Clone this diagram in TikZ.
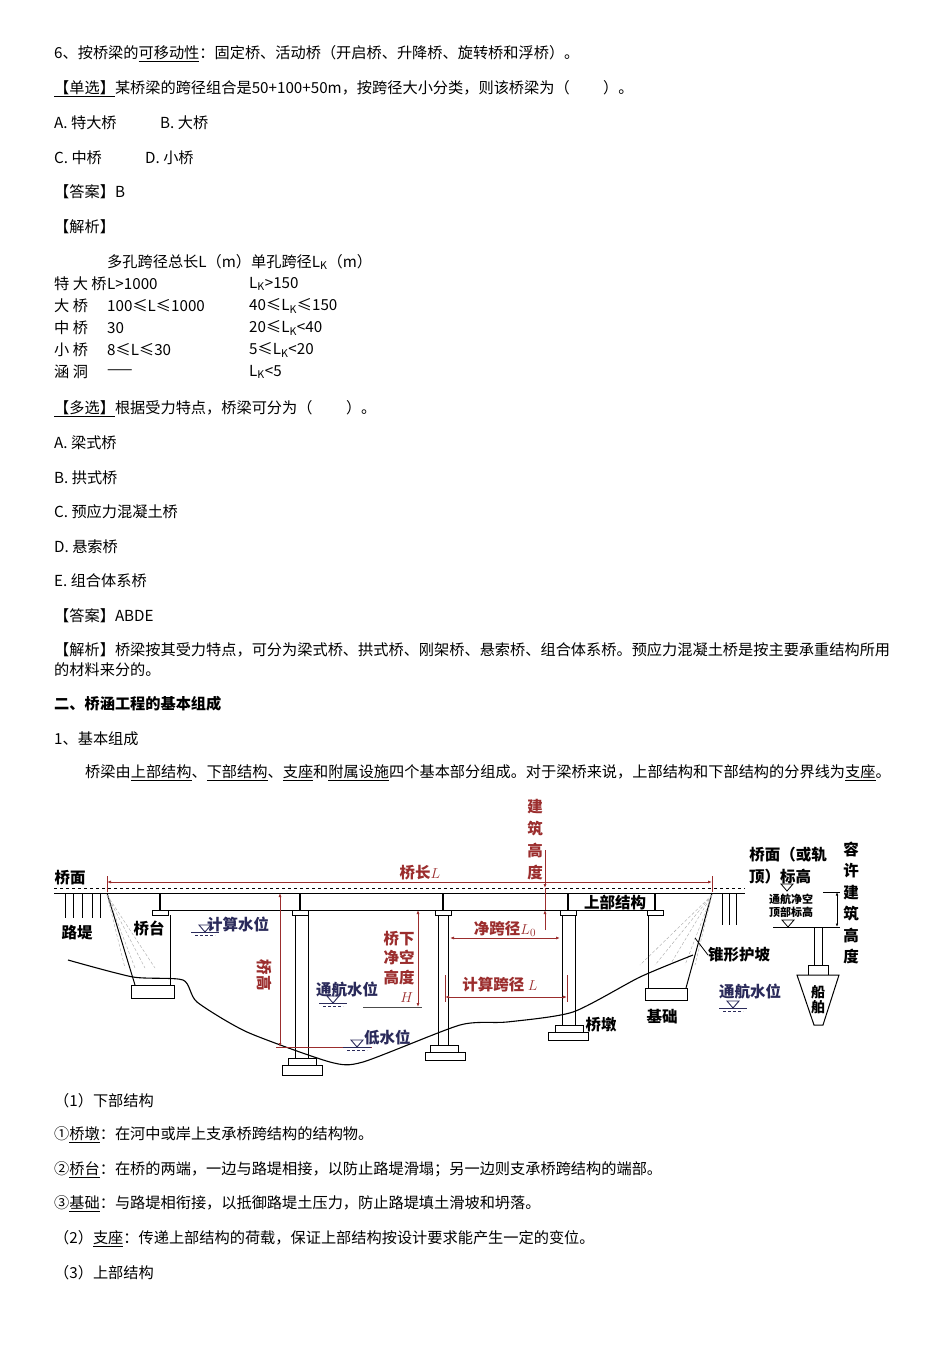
\documentclass[tikz,border=0pt]{standalone}
\usepackage{fontspec}
\setmainfont{Noto Sans CJK SC}
\usetikzlibrary{arrows.meta}
\definecolor{dred}{HTML}{9B2D2D}
\definecolor{navy}{HTML}{2A2A5A}
\begin{document}
\begin{tikzpicture}[x=1pt,y=-1pt,
  txt/.style={anchor=west,inner sep=0pt,font=\fontsize{15.2}{17}\selectfont},
  lab/.style={inner sep=0pt,font=\fontsize{15.5}{17}\selectfont\bfseries},
  rlab/.style={lab,text=dred},
  blab/.style={lab,text=navy},
  rd/.style={draw=dred,line width=0.8pt},
  dim/.style={rd,{Latex[length=4pt]}-{Latex[length=4pt]}},
  st/.style={draw=black,line width=1pt}]
\useasboundingbox[fill=white] (0,0) rectangle (950,1345);
% ---- text ----
\node[txt] (t1) at (54,54) {6、按桥梁的\underline{可移动性}：固定桥、活动桥（开启桥、升降桥、旋转桥和浮桥）。};
\node[txt] (t2) at (54,89) {\underline{【单选】}某桥梁的跨径组合是50+100+50m，按跨径大小分类，则该桥梁为（\hspace{2.2em}）。};
\node[txt] (t3) at (54,123) {A.\ 特大桥};
\node[txt] (t3b) at (160,123) {B.\ 大桥};
\node[txt] (t4) at (54,158) {C.\ 中桥};
\node[txt] (t4b) at (145,158) {D.\ 小桥};
\node[txt] (t5) at (54,192) {【答案】B};
\node[txt] (t6) at (54,227) {【解析】};
\node[txt] (h1) at (107,262) {多孔跨径总长L（m）单孔跨径L$_\mathrm{K}$（m）};
\foreach \y/\a/\b/\c in {284/特 大 桥/L>1000/L$_\mathrm{K}$>150,
  306/大 桥/100≤L≤1000/40≤L$_\mathrm{K}$≤150,
  328/中 桥/30/20≤L$_\mathrm{K}$<40,
  350/小 桥/8≤L≤30/5≤L$_\mathrm{K}$<20,
  372/涵 洞/——/L$_\mathrm{K}$<5}{
  \node[txt] (ra\y) at (54,\y) {\a};
  \node[txt] (rb\y) at (107,\y) {\b};
  \node[txt] (rc\y) at (249,\y) {\c};}
\node[txt] (t7) at (54,409) {\underline{【多选】}根据受力特点，桥梁可分为（\hspace{2.2em}）。};
\node[txt] (t8) at (54,443) {A.\ 梁式桥};
\node[txt] (t9) at (54,478) {B.\ 拱式桥};
\node[txt] (t10) at (54,512) {C.\ 预应力混凝土桥};
\node[txt] (t11) at (54,547) {D.\ 悬索桥};
\node[txt] (t12) at (54,581) {E.\ 组合体系桥};
\node[txt] (t13) at (54,616) {【答案】ABDE};
\node[txt] (t14) at (54,650) {【解析】桥梁按其受力特点，可分为梁式桥、拱式桥、刚架桥、悬索桥、组合体系桥。预应力混凝土桥是按主要承重结构所用};
\node[txt] (t15) at (54,670) {的材料来分的。};
\node[txt,font=\fontsize{15.2}{17}\selectfont\bfseries] (t16) at (54,704) {二、桥涵工程的基本组成};
\node[txt] (t17) at (54,739) {1、基本组成};
\node[txt] (t18) at (85,773) {桥梁由\underline{上部结构}、\underline{下部结构}、\underline{支座}和\underline{附属设施}四个基本部分组成。对于梁桥来说，上部结构和下部结构的分界线为\underline{支座}。};
\node[txt] (t19) at (54,1101) {（1）下部结构};
\node[txt] (t20) at (54,1135) {①\underline{桥墩}：在河中或岸上支承桥跨结构的结构物。};
\node[txt] (t21) at (54,1170) {②\underline{桥台}：在桥的两端，一边与路堤相接，以防止路堤滑塌；另一边则支承桥跨结构的端部。};
\node[txt] (t22) at (54,1204) {③\underline{基础}：与路堤相衔接，以抵御路堤土压力，防止路堤填土滑坡和坍落。};
\node[txt] (t23) at (54,1239) {（2）\underline{支座}：传递上部结构的荷载，保证上部结构按设计要求能产生一定的变位。};
\node[txt] (t24) at (54,1273) {（3）上部结构};
% ---- diagram: deck ----
\draw[st,dashed,line width=1pt] (54,888) -- (745,888);
\draw[st] (54,893) -- (745,893);
\draw[st] (158,910) -- (658,910);
\foreach \x in {160,300,443,568,655}{
  \draw[st,line width=2pt] (\x,893) -- (\x,910);
  \draw[st,fill=white] (\x-8,910) rectangle (\x+8,915);}
% road embankments
\foreach \x in {65,73,82,92,100}{\draw[st] (\x,893) -- (\x,918);}
\foreach \x in {722,729,736}{\draw[st] (\x,893) -- (\x,925);}
\node[lab] (qm) at (70,878) {桥面};
\node[lab] (lt) at (77,933) {路堤};
% left abutment
\draw[st] (107,893) -- (135,985);
\draw[st] (170,915) -- (170,985);
\draw[st,fill=white] (131,985) rectangle (174,998);
\foreach \e in {125,135,145,155}{\draw[gray!70,densely dashed,line width=0.4pt] (107,895) -- (\e,968);}
\node[lab] (qt) at (149,928) {桥台};
% piers
\draw[st] (295,915) -- (295,1058) (308,915) -- (308,1058);
\draw[st,fill=white] (288,1058) rectangle (316,1065);
\draw[st,fill=white] (282,1065) rectangle (322,1075);
\draw[st] (438,915) -- (438,1045) (448,915) -- (448,1045);
\draw[st,fill=white] (430,1045) rectangle (458,1052);
\draw[st,fill=white] (425,1052) rectangle (465,1060);
\draw[st] (562,915) -- (562,1025) (575,915) -- (575,1025);
\draw[st,fill=white] (555,1025) rectangle (583,1032);
\draw[st,fill=white] (548,1032) rectangle (588,1040);
% right abutment
\draw[st] (648,915) -- (648,988);
\draw[st,fill=white] (645,988) rectangle (687,1000);
\draw[st] (712,893) -- (686,988);
\foreach \e in {640,655,670,685,695}{\draw[gray!70,densely dashed,line width=0.4pt] (712,895) -- (\e,965);}
% ground
\draw[st,line width=1.1pt] plot[smooth,tension=0.4] coordinates{(68,960) (133,977) (183,980) (197,1002) (247,1032) (330,1062) (363,1062) (460,1025) (507,1022) (573,1012) (640,977) (693,955)};
% labels
\node[lab] (sb) at (615,903) {上部结构};
\node[lab,anchor=west] (zx) at (708,955) {锥形护坡};
\draw[st,line width=0.8pt] (695,938) -- (zx.west);
\node[lab] (qd) at (601,1025) {桥墩};
\node[lab] (jc) at (662,1017) {基础};
% red dimensions
\coordinate (la) at (107,882); \coordinate (lb) at (712,882);
\draw[rd] (107,876) -- (107,892) (712,876) -- (712,892);
\draw[dim] (la) -- (lb);
\node[rlab] (ql) at (420,873) {桥长$L$};
\node[rlab,align=center,font=\fontsize{15.5}{22}\selectfont\bfseries] (jz) at (535,840) {建\\筑\\高\\度};
\coordinate (jza) at (545,850); \coordinate (jzb) at (545,930);
\draw[rd,-{Latex[length=4pt]}] (jza) -- (545,888);
\draw[rd,-{Latex[length=4pt]}] (jzb) -- (545,910);
\draw[rd] (545,888) -- (545,910);
\coordinate (qga) at (280,893); \coordinate (qgb) at (280,1047);
\draw[dim] (qga) -- (qgb);
\draw[rd] (276,1047) -- (372,1047);
\node[rlab,rotate=-90] (qg) at (264,975) {桥高};
\coordinate (ha) at (418,910); \coordinate (hb) at (418,1007);
\draw[dim] (ha) -- (hb);
\draw[draw=black!70,line width=0.8pt] (363,1007) -- (422,1007);
\node[rlab,align=center,font=\fontsize{15.5}{19.5}\selectfont\bfseries] (hh) at (399,967) {桥下\\净空\\高度\\\hspace*{1em}$H$};
\coordinate (j0a) at (450,938); \coordinate (j0b) at (560,938);
\draw[dim] (j0a) -- (j0b);
\node[rlab] (j0) at (505,929) {净跨径$L_0$};
\draw[rd] (445,975) -- (445,1002) (567,975) -- (567,1002);
\coordinate (jsa) at (445,997); \coordinate (jsb) at (567,997);
\draw[dim] (jsa) -- (jsb);
\node[rlab] (js) at (500,985) {计算跨径 $L$};
% water levels
\foreach \n/\x/\y in {w1/205/932,w2/333/1003,w3/357/1047,w4/733/1008}{
  \draw[navy,line width=0.9pt,fill=white] (\x-6,\y-7) -- (\x+6,\y-7) -- (\x,\y) -- cycle;
  \draw[navy,line width=0.9pt] (\x-14,\y) -- (\x+14,\y);
  \draw[navy,densely dashed,line width=0.7pt] (\x-10,\y+3) -- (\x+10,\y+3);}
\node[blab,anchor=west] (jsw) at (207,924) {计算水位};
\node[blab] (thw) at (347,990) {通航水位};
\node[blab,anchor=west] (dsw) at (364,1037) {低水位};
\node[blab] (thw2) at (750,992) {通航水位};
% right legend
\node[lab] (bg1) at (788,855) {桥面（或轨};
\node[lab] (bg2) at (780,877) {顶）标高};
\draw[st,line width=0.8pt,fill=white] (781,884) -- (793,884) -- (787,891) -- cycle;
\node[lab,font=\fontsize{11}{11}\selectfont\bfseries] (tj1) at (791,899) {通航净空};
\node[lab,font=\fontsize{11}{11}\selectfont\bfseries] (tj2) at (791,912) {顶部标高};
\draw[st,line width=0.8pt,fill=white] (782,920) -- (794,920) -- (788,927) -- cycle;
\draw[st,line width=0.8pt] (823,892) -- (840,892) (773,927) -- (840,927);
\coordinate (rya) at (837,892); \coordinate (ryb) at (837,927);
\draw[draw=black,line width=0.8pt,{Latex[length=3.5pt]}-{Latex[length=3.5pt]}] (rya) -- (ryb);
\node[lab,align=center,font=\fontsize{15.5}{21.5}\selectfont\bfseries] (ry) at (851,903) {容\\许\\建\\筑\\高\\度};
\draw[st,fill=white] (814,927) rectangle (822,965);
\draw[st,fill=white] (808,965) rectangle (828,975);
\draw[st,fill=white] (797,975) -- (839,975) -- (823,1025) -- (814,1025) -- cycle;
\node[lab,align=center,font=\fontsize{14}{15}\selectfont\bfseries] (cb) at (818,1000) {船\\舶};
\end{tikzpicture}
\end{document}
